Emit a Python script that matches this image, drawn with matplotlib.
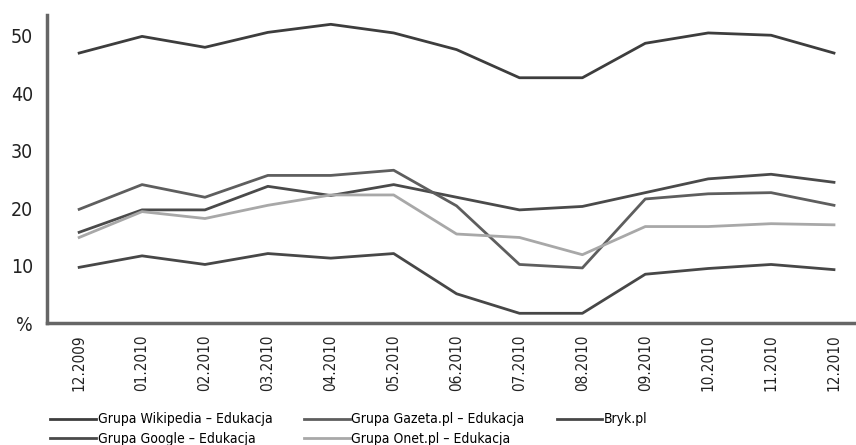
import numpy as np
import matplotlib
matplotlib.use("Agg")
import matplotlib.pyplot as plt

plt.rcParams['font.family'] = ['DejaVu Sans']
plt.rcParams['font.stretch'] = 'condensed'

months = ['12.2009', '01.2010', '02.2010', '03.2010', '04.2010', '05.2010', '06.2010',
          '07.2010', '08.2010', '09.2010', '10.2010', '11.2010', '12.2010']

wikipedia = [47.0, 49.9, 48.0, 50.6, 52.0, 50.5, 47.6, 42.7, 42.7, 48.7, 50.5, 50.1, 47.0]
gazeta = [19.8, 24.1, 21.9, 25.7, 25.7, 26.6, 20.4, 10.2, 9.6, 21.6, 22.5, 22.7, 20.5]
google = [15.8, 19.7, 19.7, 23.8, 22.2, 24.1, 21.9, 19.7, 20.3, 22.7, 25.1, 25.9, 24.5]
onet = [14.9, 19.4, 18.2, 20.5, 22.3, 22.3, 15.5, 14.9, 11.9, 16.8, 16.8, 17.3, 17.1]
bryk = [9.7, 11.7, 10.2, 12.1, 11.3, 12.1, 5.1, 1.7, 1.7, 8.5, 9.5, 10.2, 9.3]

y_ticks = [0, 10, 20, 30, 40, 50]
y_labels = ['%', '10', '20', '30', '40', '50']

fig = plt.figure(figsize=(8.56, 4.45), dpi=100)
ax = fig.add_axes([0.055, 0.274, 0.945, 0.692])

x = np.arange(len(months))
lw = 2.0
ax.plot(x, wikipedia, color='#3d3d3d', lw=lw, label='Grupa Wikipedia – Edukacja')
ax.plot(x, google, color='#4a4a4a', lw=lw, label='Grupa Google – Edukacja')
ax.plot(x, gazeta, color='#5e5e5e', lw=lw, label='Grupa Gazeta.pl – Edukacja')
ax.plot(x, onet, color='#a8a8a8', lw=lw, label='Grupa Onet.pl – Edukacja')
ax.plot(x, bryk, color='#474747', lw=lw, label='Bryk.pl')

ax.set_xlim(-0.51, 12.35)
ax.set_ylim(0, 53.6)
ax.set_xticks(x)
ax.set_xticklabels(months, rotation=90, fontsize=11, color='#222222')
ax.set_yticks(y_ticks)
ax.set_yticklabels(y_labels, fontsize=14, color='#222222')
ax.tick_params(length=0, axis='x', pad=8)
ax.tick_params(length=0, axis='y', pad=10)

for s in ['top', 'right']:
    ax.spines[s].set_visible(False)
for s in ['left', 'bottom']:
    ax.spines[s].set_color('#666666')
    ax.spines[s].set_linewidth(2.5)

ax.legend(loc='upper left', bbox_to_anchor=(0.004, -0.29), ncol=3, frameon=False,
          fontsize=10, handlelength=3.3, handletextpad=0.1, columnspacing=2.3,
          labelspacing=0.4, borderaxespad=0, borderpad=0)

fig.savefig('out.png', dpi=100, facecolor='white')
